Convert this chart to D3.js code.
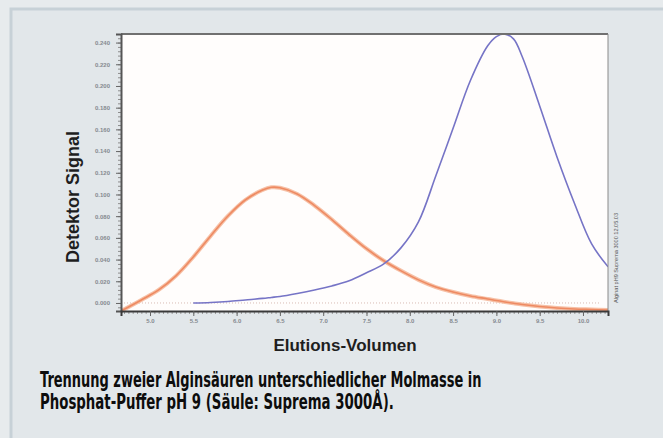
<!DOCTYPE html>
<html>
<head>
<meta charset="utf-8">
<script src="https://cdn.jsdelivr.net/npm/d3@7"></script>
<style>
  body { margin: 0; background: #e7ebed; }
  svg { display: block; }
</style>
</head>
<body>
<div id="chart"></div>
<script>
// Elution volume (x) and detector signal for both alginic acids
const volumes = [4.67, 4.9, 5.1, 5.3, 5.5, 5.7, 5.9, 6.1, 6.3, 6.4, 6.5, 6.7, 6.9, 7.1, 7.3, 7.5,
  7.7, 7.9, 8.1, 8.3, 8.5, 8.7, 8.9, 9.0, 9.1, 9.2, 9.3, 9.5, 9.7, 9.9, 10.1, 10.29];
const signalOrange = [-0.0072, 0.0028, 0.012, 0.025, 0.0424, 0.0618, 0.0802, 0.0949, 0.1041, 0.1066, 0.1062,
  0.1005, 0.0898, 0.0769, 0.063, 0.05, 0.0389, 0.0296, 0.0213, 0.0147, 0.0101, 0.0065, 0.0037,
  0.0022, 0.0009, -0.0003, -0.0014, -0.0032, -0.0046, -0.0055, -0.006, -0.0065];
const signalBlue = [null, null, null, null, 0, 0.0005, 0.0014, 0.0028, 0.0042, 0.0051, 0.006,
  0.0088, 0.012, 0.0157, 0.0204, 0.0278, 0.036, 0.051, 0.0747, 0.117, 0.161, 0.205, 0.237,
  0.2455, 0.2478, 0.2432, 0.2267, 0.1816, 0.1346, 0.0922, 0.0544, 0.0333];

const xTicks = [5.0, 5.5, 6.0, 6.5, 7.0, 7.5, 8.0, 8.5, 9.0, 9.5, 10.0];
const yTicks = [0, 0.02, 0.04, 0.06, 0.08, 0.10, 0.12, 0.14, 0.16, 0.18, 0.20, 0.22, 0.24];
const xLabel = "Elutions-Volumen";
const yLabel = "Detektor Signal";
const caption = ["Trennung zweier Alginsäuren unterschiedlicher Molmasse in",
  "Phosphat-Puffer pH 9 (Säule: Suprema 3000Å)."];

const W = 663, H = 438;
const margin = { top: 34, left: 121, right: 55, bottom: 127 },
  width = W - margin.left - margin.right,
  height = H - margin.top - margin.bottom;

const svg = d3.select("#chart").append("svg")
  .attr("width", W)
  .attr("height", H);

// card background
svg.append("rect")
  .attr("x", 11).attr("y", 9)
  .attr("width", W).attr("height", H)
  .attr("fill", "#e2e7ea")
  .attr("stroke", "#c7d1d7")
  .attr("stroke-width", 3);

const g = svg.append("g")
  .attr("transform", "translate(" + margin.left + "," + margin.top + ")");

const xScale = d3.scaleLinear().domain([4.665, 10.289]).range([0, width]);
const yScale = d3.scaleLinear().domain([-0.0074, 0.2479]).range([height, 0]);

// plot area
g.append("rect")
  .attr("width", width).attr("height", height)
  .attr("fill", "#fffdfc");

g.append("clipPath").attr("id", "clip")
  .append("rect").attr("width", width).attr("height", height + 4).attr("y", -1);

// zero line (dotted)
g.append("line")
  .attr("x1", 0).attr("x2", width - 8)
  .attr("y1", yScale(0)).attr("y2", yScale(0))
  .attr("stroke", "#d8bcb4")
  .attr("stroke-width", 1)
  .attr("stroke-dasharray", "1,2");

const line = d3.line()
  .defined(d => d[1] !== null)
  .curve(d3.curveCatmullRom.alpha(0.5))
  .x(d => xScale(d[0]))
  .y(d => yScale(d[1]));

const orangeData = volumes.map((v, i) => [v, signalOrange[i]]);
const blueData = volumes.map((v, i) => [v, signalBlue[i]]);

const plot = g.append("g").attr("clip-path", "url(#clip)");
plot.append("path")
  .attr("d", line(orangeData))
  .attr("fill", "none")
  .attr("stroke", "#f6c0a6")
  .attr("stroke-width", 4);
plot.append("path")
  .attr("d", line(orangeData))
  .attr("fill", "none")
  .attr("stroke", "#ee8a62")
  .attr("stroke-width", 1.6);
plot.append("path")
  .attr("d", line(blueData))
  .attr("fill", "none")
  .attr("stroke", "#7674c6")
  .attr("stroke-width", 1.6);

// frame top / right
g.append("line").attr("x1", 0).attr("x2", width).attr("y1", 0).attr("y2", 0)
  .attr("stroke", "#707070").attr("stroke-width", 2);
g.append("line").attr("x1", width).attr("x2", width).attr("y1", 0).attr("y2", height)
  .attr("stroke", "#8a8a8a").attr("stroke-width", 1);

// minor ticks
const yMinor = d3.range(-0.004, 0.2479, 0.004);
g.append("g")
  .call(d3.axisLeft(yScale).tickValues(yMinor).tickSize(3).tickFormat(""))
  .call(a => a.select(".domain").remove())
  .selectAll("line").attr("stroke", "#8d8d8d");
const xMinor = d3.range(4.7, 10.29, 0.05);
g.append("g")
  .attr("transform", "translate(0," + height + ")")
  .call(d3.axisBottom(xScale).tickValues(xMinor).tickSize(3).tickFormat(""))
  .call(a => a.select(".domain").remove())
  .selectAll("line").attr("stroke", "#9a9a9a");

// Y axis
const yAxis = g.append("g")
  .call(d3.axisLeft(yScale).tickValues(yTicks).tickSize(5).tickPadding(6)
    .tickFormat(d3.format(".3f")));
yAxis.select(".domain").attr("stroke", "#555").attr("stroke-width", 2);
yAxis.selectAll("line").attr("stroke", "#666");
yAxis.selectAll("text")
  .attr("font-family", "Liberation Sans, Arial, sans-serif")
  .attr("font-size", 6)
  .attr("font-weight", "bold")
  .attr("fill", "#858a90");

// X axis
const xAxis = g.append("g")
  .attr("transform", "translate(0," + height + ")")
  .call(d3.axisBottom(xScale).tickValues(xTicks).tickSize(5).tickPadding(3)
    .tickFormat(d3.format(".1f")));
xAxis.select(".domain").attr("stroke", "#3a3a3a").attr("stroke-width", 2);
xAxis.selectAll("line").attr("stroke", "#666");
xAxis.selectAll("text")
  .attr("font-family", "Liberation Sans, Arial, sans-serif")
  .attr("font-size", 6)
  .attr("font-weight", "bold")
  .attr("fill", "#858a90");

// axis titles
svg.append("text")
  .attr("transform", "translate(79,197) rotate(-90)")
  .attr("text-anchor", "middle")
  .attr("font-family", "Liberation Sans, Arial, sans-serif")
  .attr("font-weight", "bold")
  .attr("font-size", 18)
  .attr("fill", "#1e1e1e")
  .text(yLabel);

svg.append("text")
  .attr("x", 345).attr("y", 351)
  .attr("text-anchor", "middle")
  .attr("font-family", "Liberation Sans, Arial, sans-serif")
  .attr("font-weight", "bold")
  .attr("font-size", 17)
  .attr("fill", "#1e1e1e")
  .text(xLabel);

// tiny run info at the right edge
svg.append("text")
  .attr("transform", "translate(618,303) rotate(-90)")
  .attr("font-family", "Liberation Sans, Arial, sans-serif")
  .attr("font-size", 5)
  .attr("fill", "#555")
  .attr("textLength", 90)
  .attr("lengthAdjust", "spacingAndGlyphs")
  .text("Alginat pH9 Suprema 3000 12.05.03");

// caption: condensed look by squeezing a bold face horizontally
const capWidths = [442, 354];
caption.forEach((t, i) => {
  const txt = svg.append("text")
    .attr("font-family", "DejaVu Sans, sans-serif")
    .attr("font-weight", "bold")
    .attr("font-size", 21)
    .attr("fill", "#0d0d0d")
    .text(t);
  const k = capWidths[i] / txt.node().getComputedTextLength();
  txt.attr("transform", "translate(40," + (387 + i * 22) + ") scale(" + k + ",1)");
});
</script>
</body>
</html>
